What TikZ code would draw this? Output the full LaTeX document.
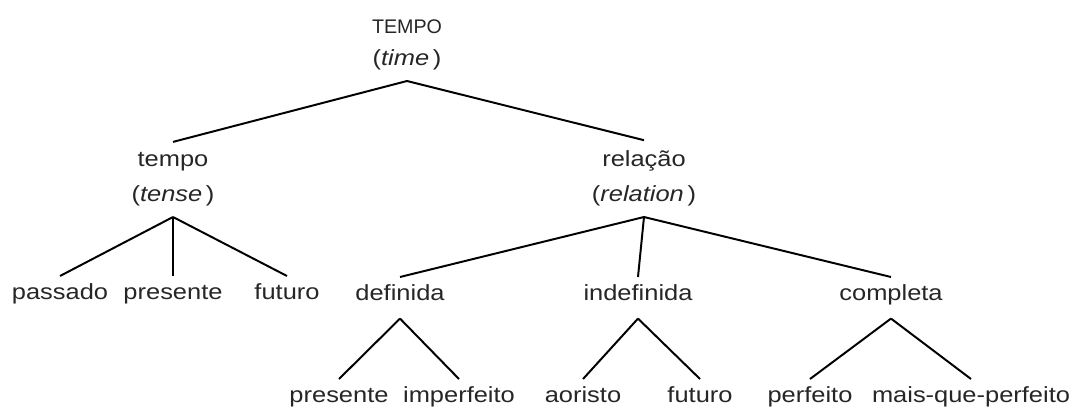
\documentclass[tikz,border=0pt]{standalone}
\usepackage{fontspec}
\setmainfont{Liberation Sans}[FakeStretch=1.16]
\newfontfamily\capsfont{Liberation Sans}
\usepackage{tikz}
\usetikzlibrary{positioning}

\begin{document}
\begin{tikzpicture}[x=0.025cm,y=-0.025cm,
  every node/.style={font=\fontsize{15.6}{24.9}\selectfont,text=black!85},
  cat/.style={align=center,inner ysep=0.26cm,anchor=south},
  word/.style={inner xsep=0pt,inner ysep=0.175cm,text height=0.4cm,text depth=0.275cm,anchor=north}]
\useasboundingbox (0,0) rectangle (1078,408);
% categories
\node[cat] (time) at (407,81) {{\capsfont\fontsize{14}{16}\selectfont TEMPO}\\[-0.07cm](\textit{time}\,)};
\node[cat] (tense) at (173,217) {tempo\\(\textit{tense}\,)};
\node[cat] (rel) at (644,217) {relação\\(\textit{relation}\,)};
% first row
\node[word] (pas) at (60,276) {passado};
\node[word] (pre) at (173,276) {presente};
\node[word] (fut) at (287,276) {futuro};
\node[word] (def) at (400,277) {definida};
\node[word] (ind) at (638,277) {indefinida};
\node[word] (com) at (891,277) {completa};
% second row
\node[word] (prs) at (339,379) {presente};
\node[word] (imp) at (459,379) {imperfeito};
\node[word] (aor) at (583,379) {aoristo};
\node[word] (fts) at (700,379) {futuro};
\node[word] (per) at (810,379) {perfeito};
\node[word] (mqp) at (971,379) {mais-que-perfeito};
% branches
\foreach \a/\b in {time/tense,time/rel,tense/pas,tense/pre,tense/fut,rel/def,rel/ind,rel/com,
  def/prs,def/imp,ind/aor,ind/fts,com/per,com/mqp}
{\draw[line width=1.4pt] (\a.south) -- (\b.north);}
\end{tikzpicture}
\end{document}
